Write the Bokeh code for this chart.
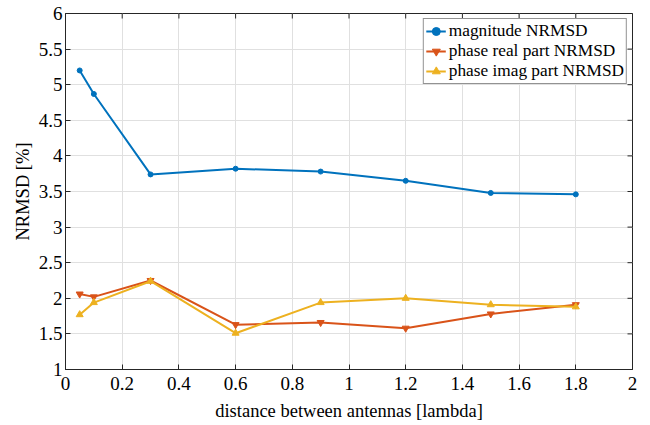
import math
from bokeh.plotting import figure
from bokeh.models import Range1d, FixedTicker, NumeralTickFormatter, Legend, LegendItem
from bokeh.embed import file_html
from bokeh.resources import INLINE

x = [0.05, 0.1, 0.3, 0.6, 0.9, 1.2, 1.5, 1.8]
magnitude = [5.2, 4.87, 3.74, 3.82, 3.78, 3.65, 3.48, 3.46]
phase_real = [2.06, 2.02, 2.25, 1.63, 1.66, 1.58, 1.78, 1.91]
phase_imag = [1.77, 1.94, 2.24, 1.51, 1.94, 2.00, 1.91, 1.88]
x_ticks = [0, 0.2, 0.4, 0.6, 0.8, 1.0, 1.2, 1.4, 1.6, 1.8, 2.0]
y_ticks = [1, 1.5, 2, 2.5, 3, 3.5, 4, 4.5, 5, 5.5, 6]

FONT = "Liberation Serif"
AX = "#262626"

p = figure(width=648, height=423, output_backend="svg", toolbar_location=None,
           x_range=Range1d(x_ticks[0], x_ticks[-1]), y_range=Range1d(y_ticks[0], y_ticks[-1]),
           min_border_left=65, min_border_right=16, min_border_top=13, min_border_bottom=54,
           x_axis_label="distance between antennas [lambda]", y_axis_label="NRMSD [%]")
p.outline_line_color = AX
p.outline_line_width = 1
p.background_fill_color = "white"

for ax in (p.xaxis[0], p.yaxis[0]):
    ax.major_tick_in = 5
    ax.major_tick_out = 0
    ax.minor_tick_line_color = None
    ax.axis_line_color = AX
    ax.major_tick_line_color = AX
    ax.major_label_text_font = FONT
    ax.major_label_text_font_size = "19px"
    ax.major_label_text_color = "black"
    ax.axis_label_text_font = FONT
    ax.axis_label_text_font_size = "18.5px"
    ax.axis_label_text_font_style = "normal"
    ax.axis_label_text_color = "black"
    ax.formatter = NumeralTickFormatter(format="0.[0]")
p.xaxis[0].ticker = FixedTicker(ticks=x_ticks)
p.yaxis[0].ticker = FixedTicker(ticks=y_ticks)
p.xaxis[0].axis_label_standoff = 8
p.yaxis[0].axis_label_standoff = 3
p.xaxis[0].major_label_standoff = 7
p.yaxis[0].major_label_standoff = 3

p.xgrid.ticker = FixedTicker(ticks=x_ticks)
p.ygrid.ticker = FixedTicker(ticks=y_ticks)
p.grid.grid_line_color = "#e0e0e0"
p.grid.grid_line_width = 1

# inward tick marks on the top and right edges of the box
p.scatter(x_ticks, [y_ticks[-1]] * len(x_ticks), marker="dash", angle=math.pi / 2,
          size=10, line_color=AX, line_width=1)
p.scatter([x_ticks[-1]] * len(y_ticks), y_ticks, marker="dash",
          size=10, line_color=AX, line_width=1)

c1, c2, c3 = "#0072BD", "#D95319", "#EDB120"
l1 = p.line(x, magnitude, line_color=c1, line_width=2)
s1 = p.scatter(x, magnitude, marker="circle", size=5, fill_color=c1, line_color=c1)
l2 = p.line(x, phase_real, line_color=c2, line_width=2)
s2 = p.scatter(x, phase_real, marker="inverted_triangle", size=7, fill_color=c2, line_color=c2)
l3 = p.line(x, phase_imag, line_color=c3, line_width=2)
s3 = p.scatter(x, phase_imag, marker="triangle", size=7, fill_color=c3, line_color=c3)

legend = Legend(items=[
    LegendItem(label="magnitude NRMSD", renderers=[l1, s1]),
    LegendItem(label="phase real part NRMSD", renderers=[l2, s2]),
    LegendItem(label="phase imag part NRMSD", renderers=[l3, s3]),
], location="top_right")
legend.label_text_font = FONT
legend.label_text_font_size = "17.3px"
legend.label_text_color = "black"
legend.border_line_color = AX
legend.border_line_width = 1
legend.background_fill_alpha = 1
legend.glyph_width = 20
legend.glyph_height = 20
legend.label_standoff = 3
legend.label_height = 20
legend.spacing = 0
legend.padding = 2
legend.margin = 5
p.add_layout(legend)

open("out.html", "w").write(file_html(p, INLINE))
